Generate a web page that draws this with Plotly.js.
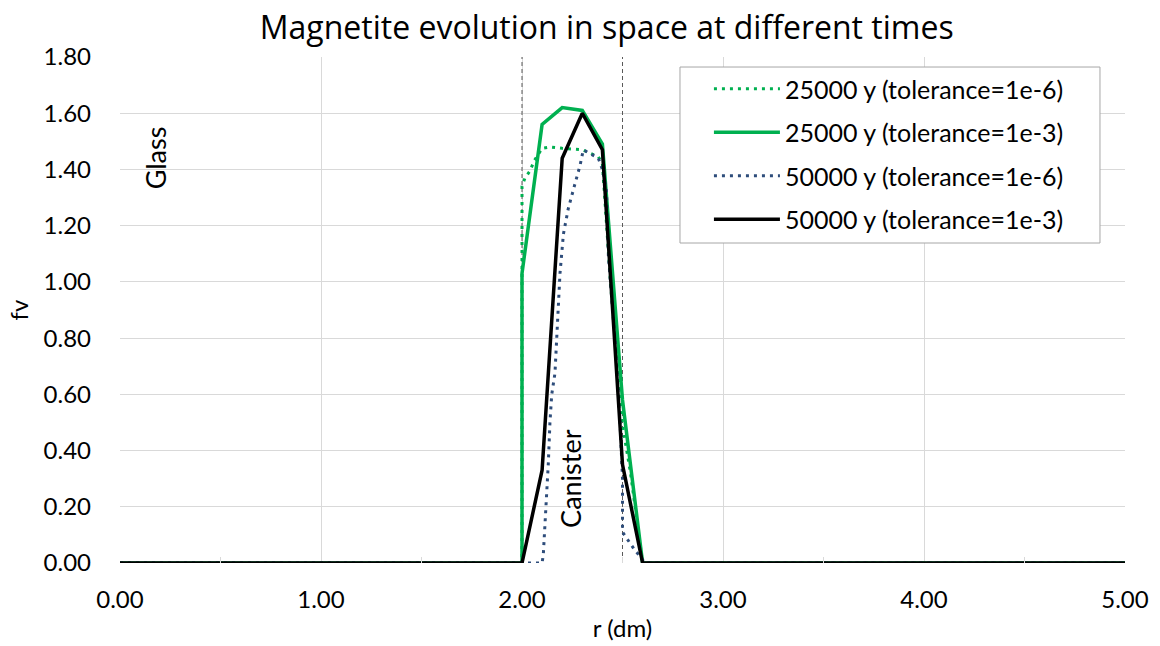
<!DOCTYPE html>
<html>
<head>
<meta charset="utf-8">
<script src="https://cdn.plot.ly/plotly-3.0.1.min.js"></script>
<style>html,body{margin:0;padding:0;background:#fff}#chart{width:1160px;height:646px}</style>
</head>
<body>
<div id="chart"></div>
<script>
// 25000 y, tolerance 1e-6 (fine)
const r25fine  = [0, 2.0, 2.0, 2.015, 2.04, 2.06, 2.1, 2.14, 2.2, 2.3, 2.38, 2.4, 2.44, 2.5, 2.54, 2.6, 5];
const fv25fine = [0, 0, 1.34, 1.37, 1.395, 1.43, 1.475, 1.48, 1.475, 1.47, 1.445, 1.42, 1.0, 0.49, 0.32, 0, 0];
// 25000 y, tolerance 1e-3
const r25coarse  = [0, 2.0, 2.0, 2.1, 2.2, 2.3, 2.4, 2.5, 2.6, 5];
const fv25coarse = [0, 0, 1.03, 1.56, 1.62, 1.61, 1.49, 0.58, 0, 0];
// 50000 y, tolerance 1e-6
const r50fine  = [0, 2.1, 2.106, 2.114, 2.123, 2.131, 2.139, 2.148, 2.164, 2.172, 2.181, 2.189, 2.206, 2.23, 2.264, 2.289, 2.305, 2.343, 2.38, 2.4, 2.42, 2.43, 2.463, 2.488, 2.5, 2.5, 2.537, 2.562, 2.595, 2.61, 5];
const fv50fine = [0, 0, 0.03, 0.13, 0.26, 0.355, 0.5, 0.6, 0.675, 0.79, 0.91, 1.03, 1.17, 1.26, 1.35, 1.415, 1.47, 1.455, 1.44, 1.4, 1.33, 1.09, 0.79, 0.5, 0.3, 0.11, 0.07, 0.045, 0.017, 0, 0];
// 50000 y, tolerance 1e-3
const r50coarse  = [0, 2.0, 2.1, 2.2, 2.3, 2.4, 2.5, 2.6, 5];
const fv50coarse = [0, 0, 0.33, 1.44, 1.60, 1.47, 0.35, 0, 0];

const seriesNames = ['25000 y (tolerance=1e-6)', '25000 y (tolerance=1e-3)', '50000 y (tolerance=1e-6)', '50000 y (tolerance=1e-3)'];
const boundaries = [2.0, 2.5];
const yRange = [0, 1.8];
const regionLabels = ['Glass', 'Canister'];
const regionLabelX = [0.175, 2.24];
const regionLabelY = [1.44, 0.30];

const FONT = 'Lato, "Open Sans", sans-serif';
const TFONT = '"Open Sans", Lato, sans-serif';

const traces = [];
boundaries.forEach(b => {
  traces.push({x: [b, b], y: yRange, mode: 'lines', showlegend: false, hoverinfo: 'skip',
    line: {color: '#595959', width: 1, dash: '4px,3px'}});
});
traces.push({x: r25fine, y: fv25fine, name: seriesNames[0], mode: 'lines', legendgroup: 'a',
  line: {color: '#00b050', width: 3, dash: '3px,5px'}});
traces.push({x: r25coarse, y: fv25coarse, name: seriesNames[1], mode: 'lines', legendgroup: 'b',
  line: {color: '#00b050', width: 3.5}});
traces.push({x: r50fine, y: fv50fine, name: seriesNames[2], mode: 'lines', legendgroup: 'c',
  line: {color: '#2e4d7b', width: 3, dash: '3px,5px'}});
traces.push({x: r50coarse, y: fv50coarse, name: seriesNames[3], mode: 'lines', legendgroup: 'd',
  line: {color: '#000000', width: 3.5}});

const annotations = regionLabels.map((t, i) => ({
  x: regionLabelX[i], y: regionLabelY[i], xref: 'x', yref: 'y', text: t, showarrow: false,
  textangle: -90, font: {family: FONT, size: 27, color: '#000'}
}));

const layout = {
  width: 1160, height: 646,
  margin: {l: 120, r: 35, t: 57, b: 83},
  paper_bgcolor: '#fff', plot_bgcolor: '#fff',
  font: {family: FONT, size: 24, color: '#000'},
  title: {text: 'Magnetite evolution in space at different times', x: 0.523, xanchor: 'center', y: 0.957, yanchor: 'middle',
    font: {family: TFONT, size: 32, color: '#000'}},
  xaxis: {range: [0, 5], dtick: 1, tick0: 0, tickformat: '.2f', showgrid: true, gridcolor: '#d9d9d9', gridwidth: 1,
    zeroline: false, showline: false, ticks: '', ticklabelstandoff: 20,
    minor: {dtick: 0.5, tick0: 0, ticks: 'inside', ticklen: 6, tickcolor: '#d9d9d9', showgrid: false},
    title: {text: 'r (dm)', standoff: 8, font: {family: FONT, size: 24}}, tickfont: {size: 24}},
  yaxis: {range: yRange, dtick: 0.2, tick0: 0, tickformat: '.2f', showgrid: true, gridcolor: '#d9d9d9', gridwidth: 1,
    zeroline: false, showline: false, ticks: '', ticklabelstandoff: 28,
    title: {text: 'fv', standoff: 8, font: {family: FONT, size: 24}}, tickfont: {size: 24}},
  shapes: [{type: 'rect', xref: 'paper', yref: 'paper', x0: 0.5572, x1: 0.9751, y0: 0.6324, y1: 0.9802,
    fillcolor: '#ffffff', line: {color: '#a6a6a6', width: 1}, layer: 'above'}],
  legend: {x: 0.586, y: 0.982, xanchor: 'left', yanchor: 'top', bgcolor: 'rgba(0,0,0,0)', borderwidth: 0,
    font: {family: FONT, size: 25}, itemwidth: 66, tracegroupgap: 8, traceorder: 'grouped'},
  annotations: annotations,
  showlegend: true
};

Plotly.newPlot('chart', traces, layout, {displayModeBar: false, staticPlot: true});
</script>
</body>
</html>
